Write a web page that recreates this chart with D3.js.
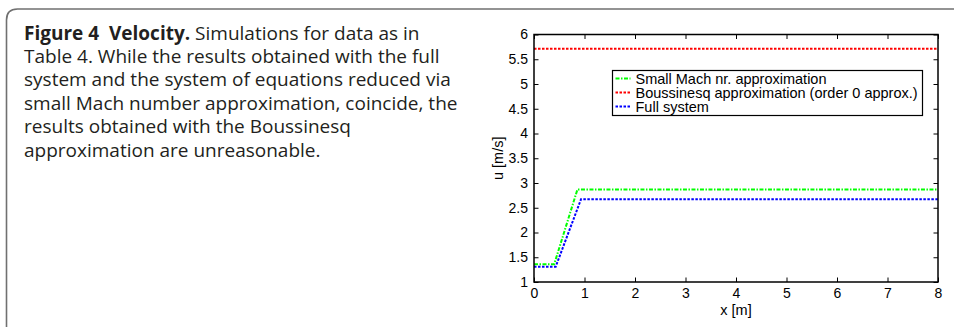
<!DOCTYPE html>
<html>
<head>
<meta charset="utf-8">
<script src="https://cdn.jsdelivr.net/npm/d3@7"></script>
<style>
  body { margin: 0; background: #fff; }
  svg { display: block; }
</style>
</head>
<body>
<div id="fig"></div>
<script>
// Figure 4 velocity plot, MATLAB style, with caption on the left

const FRAME_WIDTH = 954;
const FRAME_HEIGHT = 327;

// plot area in pixels
const MARGINS = {left: 534, right: 16, top: 34.5, bottom: 45};
const VIS_WIDTH = FRAME_WIDTH - MARGINS.left - MARGINS.right;
const VIS_HEIGHT = FRAME_HEIGHT - MARGINS.top - MARGINS.bottom;

// caption lines
const CAPTION_BOLD = "Figure 4  Velocity.";
const CAPTION_LINES = [
  " Simulations for data as in",
  "Table 4. While the results obtained with the full",
  "system and the system of equations reduced via",
  "small Mach number approximation, coincide, the",
  "results obtained with the Boussinesq",
  "approximation are unreasonable."
];

// axis ticks
const X_TICKS = [0, 1, 2, 3, 4, 5, 6, 7, 8];
const Y_TICKS = [1, 1.5, 2, 2.5, 3, 3.5, 4, 4.5, 5, 5.5, 6];

// series (x in m, u in m/s)
const SERIES_NAMES = ["Small Mach nr. approximation", "Boussinesq approximation (order 0 approx.)", "Full system"];
const SMALL_MACH = [[0, 1.36], [0.40, 1.36], [0.86, 2.87], [8, 2.87]];
const BOUSSINESQ = [[0, 5.71], [8, 5.71]];
const FULL_SYSTEM = [[0, 1.31], [0.43, 1.31], [0.93, 2.67], [8, 2.67]];

const SERIES = [
  {name: SERIES_NAMES[0], values: SMALL_MACH, color: "#00ff00", dash: "4,1.5,1.5,1.5"},
  {name: SERIES_NAMES[1], values: BOUSSINESQ, color: "#ff0000", dash: "2.5,1.5"},
  {name: SERIES_NAMES[2], values: FULL_SYSTEM, color: "#0000ff", dash: "2.5,1.5"}
];

const FRAME = d3.select("#fig")
  .append("svg")
    .attr("width", FRAME_WIDTH)
    .attr("height", FRAME_HEIGHT);

// rounded caption frame (open on right and bottom)
FRAME.append("path")
  .attr("d", "M 6.5 " + FRAME_HEIGHT + " L 6.5 20 Q 6.5 9 17.5 9 L " + FRAME_WIDTH + " 9")
  .attr("fill", "none")
  .attr("stroke", "#707070")
  .attr("stroke-width", 1.6);

// caption text
const CAP = FRAME.append("text")
  .attr("font-family", "'Open Sans', sans-serif")
  .attr("font-size", "19px")
  .attr("fill", "#231f20")
  .style("white-space", "pre");

const first = CAP.append("tspan").attr("x", 24).attr("y", 39.5);
first.append("tspan").attr("font-weight", "bold").text(CAPTION_BOLD);
first.append("tspan").text(CAPTION_LINES[0]);
CAPTION_LINES.slice(1).forEach((line, i) => {
  CAP.append("tspan")
    .attr("x", 24)
    .attr("y", 39.5 + 23.4 * (i + 1))
    .text(line);
});

// scales
const X_SCALE = d3.scaleLinear()
  .domain([0, 8])
  .range([MARGINS.left, MARGINS.left + VIS_WIDTH]);

const Y_SCALE = d3.scaleLinear()
  .domain([1, 6])
  .range([MARGINS.top + VIS_HEIGHT, MARGINS.top]);

const AXIS_FONT = "'Liberation Sans', Arial, sans-serif";
const TICK = 4.5;

// bottom axis with labels, ticks inside
const xAxis = FRAME.append("g")
  .attr("transform", "translate(0," + (MARGINS.top + VIS_HEIGHT) + ")")
  .call(d3.axisBottom(X_SCALE).tickValues(X_TICKS).tickFormat(d3.format("d"))
    .tickSizeInner(-TICK).tickSizeOuter(0).tickPadding(6));
// top axis, no labels
const xTop = FRAME.append("g")
  .attr("transform", "translate(0," + MARGINS.top + ")")
  .call(d3.axisTop(X_SCALE).tickValues(X_TICKS).tickFormat("")
    .tickSizeInner(-TICK).tickSizeOuter(0));
// left axis with labels
const yAxis = FRAME.append("g")
  .attr("transform", "translate(" + MARGINS.left + ",0)")
  .call(d3.axisLeft(Y_SCALE).tickValues(Y_TICKS).tickFormat(d3.format("~g"))
    .tickSizeInner(-TICK).tickSizeOuter(0).tickPadding(6));
// right axis, no labels
const yRight = FRAME.append("g")
  .attr("transform", "translate(" + (MARGINS.left + VIS_WIDTH) + ",0)")
  .call(d3.axisRight(Y_SCALE).tickValues(Y_TICKS).tickFormat("")
    .tickSizeInner(-TICK).tickSizeOuter(0));

[xAxis, xTop, yAxis, yRight].forEach(g => {
  g.select(".domain").remove();
  g.attr("font-family", AXIS_FONT).attr("font-size", 14);
  g.selectAll("line").attr("stroke", "#000").attr("stroke-width", 1);
  g.selectAll("text").attr("fill", "#000");
});

// series lines
const line = d3.line()
  .x(d => X_SCALE(d[0]))
  .y(d => Y_SCALE(d[1]));

FRAME.append("g")
  .selectAll("path")
  .data(SERIES)
  .enter()
  .append("path")
    .attr("d", d => line(d.values))
    .attr("fill", "none")
    .attr("stroke", d => d.color)
    .attr("stroke-width", 2)
    .attr("stroke-dasharray", d => d.dash);

// plot box
FRAME.append("rect")
  .attr("x", MARGINS.left)
  .attr("y", MARGINS.top)
  .attr("width", VIS_WIDTH)
  .attr("height", VIS_HEIGHT)
  .attr("fill", "none")
  .attr("stroke", "#000")
  .attr("stroke-width", 1.5);

// axis titles
FRAME.append("text")
  .attr("x", X_SCALE(4))
  .attr("y", 315)
  .attr("text-anchor", "middle")
  .attr("font-family", AXIS_FONT)
  .attr("font-size", "14.5px")
  .text("x [m]");

FRAME.append("text")
  .attr("transform", "translate(503," + Y_SCALE(3.5) + ") rotate(-90)")
  .attr("text-anchor", "middle")
  .attr("font-family", AXIS_FONT)
  .attr("font-size", "14.5px")
  .text("u [m/s]");

// legend
const LEG_X = 612.5, LEG_Y = 70.5, LEG_W = 310, LEG_H = 45;
const legend = FRAME.append("g");
legend.append("rect")
  .attr("x", LEG_X)
  .attr("y", LEG_Y)
  .attr("width", LEG_W)
  .attr("height", LEG_H)
  .attr("fill", "#fff")
  .attr("stroke", "#000")
  .attr("stroke-width", 1.2);

const items = legend.selectAll("g.item")
  .data(SERIES)
  .enter()
  .append("g")
    .attr("transform", (d, i) => "translate(" + LEG_X + "," + (LEG_Y + 8 + 14 * i) + ")");

items.append("line")
  .attr("x1", 3).attr("x2", 18)
  .attr("y1", 0).attr("y2", 0)
  .attr("stroke", d => d.color)
  .attr("stroke-width", 2)
  .attr("stroke-dasharray", d => d.dash);

items.append("text")
  .attr("x", 23)
  .attr("y", 5)
  .attr("font-family", AXIS_FONT)
  .attr("font-size", "14.5px")
  .text(d => d.name);
</script>
</body>
</html>
